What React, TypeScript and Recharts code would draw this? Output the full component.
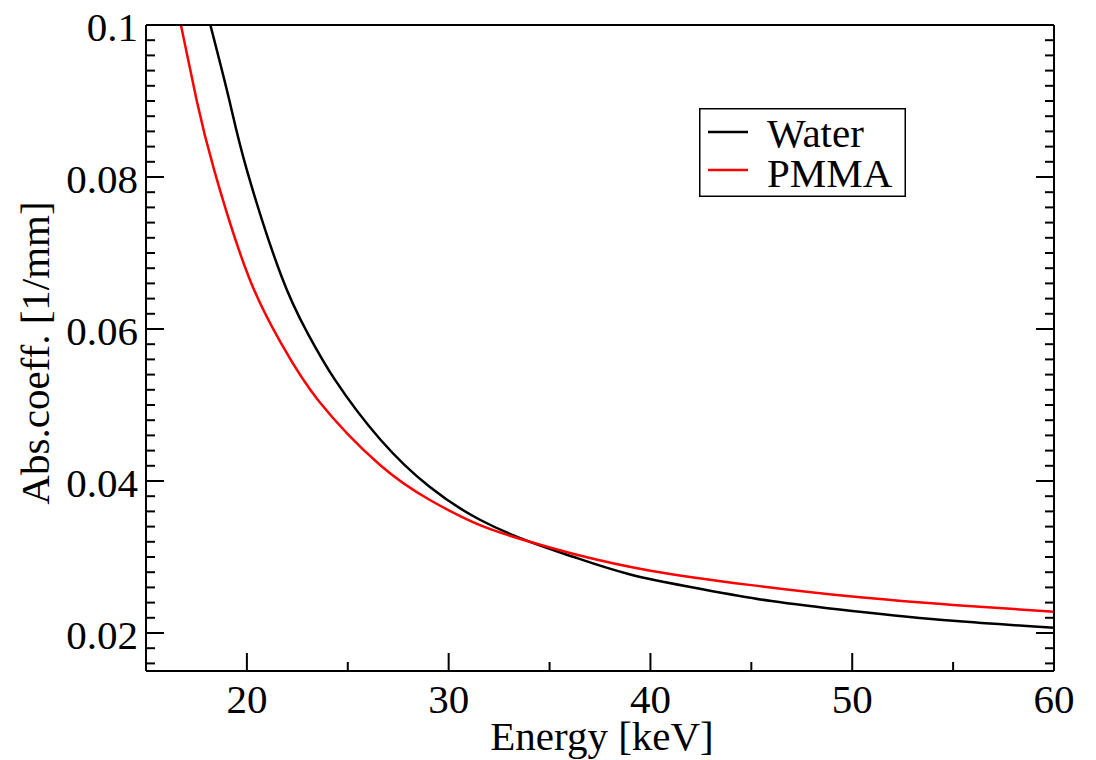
import { Legend, Line, LineChart, XAxis, YAxis } from "recharts";

// values (keV, 1/mm)
const waterEnergy = [
  18.19, 19.13, 20, 21.69, 23, 24.37, 26.6, 29.07, 31.55, 34.03, 36.2, 39, 42.5,
  46, 50, 55, 60,
];
const waterMu = [
  0.1, 0.0901, 0.0809, 0.0671, 0.0595, 0.0533, 0.0455, 0.0392, 0.0349, 0.032,
  0.03, 0.0277, 0.0258, 0.0242, 0.0229, 0.0216, 0.0207,
];

const pmmaEnergy = [
  16.73, 17.51, 18.38, 20.07, 21.7, 23.54, 26.6, 29.07, 31.55, 34.03, 36.2, 40,
  45, 50, 55, 60,
];
const pmmaMu = [
  0.1, 0.0901, 0.0809, 0.067, 0.0581, 0.0506, 0.0421, 0.0375, 0.0342, 0.032,
  0.0304, 0.0282, 0.0263, 0.0248, 0.0237, 0.0228,
];

const xTicks = [20, 25, 30, 35, 40, 45, 50, 55, 60];
const xLabels = [20, 30, 40, 50, 60];
const yTicks = [
  0.016, 0.018, 0.02, 0.022, 0.024, 0.026, 0.028, 0.03, 0.032, 0.034, 0.036,
  0.038, 0.04, 0.042, 0.044, 0.046, 0.048, 0.05, 0.052, 0.054, 0.056, 0.058,
  0.06, 0.062, 0.064, 0.066, 0.068, 0.07, 0.072, 0.074, 0.076, 0.078, 0.08,
  0.082, 0.084, 0.086, 0.088, 0.09, 0.092, 0.094, 0.096, 0.098, 0.1,
];
const yLabels = [0.02, 0.04, 0.06, 0.08, 0.1];

const water = waterEnergy.map((e, i) => ({ e, mu: waterMu[i] }));
const pmma = pmmaEnergy.map((e, i) => ({ e, mu: pmmaMu[i] }));

const FONT = '"Liberation Serif", "Times New Roman", serif';
const MAJOR = 18;
const MINOR = 9;

const isMajorX = (v: number) => xLabels.includes(v);
const isMajorY = (v: number) => yLabels.some((l) => Math.abs(l - v) < 1e-9);

function BottomTick({ x, y, payload }: any) {
  const major = isMajorX(payload.value);
  return (
    <g>
      <line x1={x} x2={x} y1={y} y2={y - (major ? MAJOR : MINOR)} stroke="#000" strokeWidth={2} />
      {major && (
        <text x={x} y={y + 42} textAnchor="middle" fontSize={41} fontFamily={FONT} fill="#000">
          {payload.value}
        </text>
      )}
    </g>
  );
}

function TopTick({ x, y, payload }: any) {
  const major = isMajorX(payload.value);
  return <line x1={x} x2={x} y1={y} y2={y + (major ? MAJOR : MINOR)} stroke="#000" strokeWidth={2} />;
}

function LeftTick({ x, y, payload }: any) {
  const major = isMajorY(payload.value);
  return (
    <g>
      <line x1={x} x2={x + (major ? MAJOR : MINOR)} y1={y} y2={y} stroke="#000" strokeWidth={2} />
      {major && (
        <text x={x - 8} y={y + 16} textAnchor="end" fontSize={41} fontFamily={FONT} fill="#000">
          {payload.value}
        </text>
      )}
    </g>
  );
}

function RightTick({ x, y, payload }: any) {
  const major = isMajorY(payload.value);
  return <line x1={x} x2={x - (major ? MAJOR : MINOR)} y1={y} y2={y} stroke="#000" strokeWidth={2} />;
}

function XTitle() {
  return (
    <text x={602} y={750} textAnchor="middle" fontSize={41} fontFamily={FONT} fill="#000">
      Energy [keV]
    </text>
  );
}

function YTitle() {
  return (
    <text
      x={49}
      y={353}
      transform="rotate(-90 49 353)"
      textAnchor="middle"
      fontSize={41}
      fontFamily={FONT}
      fill="#000"
    >
      Abs.coeff. [1/mm]
    </text>
  );
}

function LegendBox() {
  return (
    <svg width={207} height={89} style={{ display: "block" }}>
      <rect x={0.75} y={0.75} width={205.5} height={87.5} fill="#fff" stroke="#000" strokeWidth={1.5} />
      <line x1={9} x2={49} y1={24} y2={24} stroke="#000" strokeWidth={2.5} />
      <line x1={9} x2={49} y1={62} y2={62} stroke="#ff0000" strokeWidth={2.5} />
      <text x={68} y={39} fontSize={41} fontFamily={FONT} fill="#000">
        Water
      </text>
      <text x={68} y={79} fontSize={41} fontFamily={FONT} fill="#000">
        PMMA
      </text>
    </svg>
  );
}

export default function App() {
  return (
    <div style={{ position: "absolute", left: 0, top: 0, background: "#fff" }}>
      <LineChart width={1096} height={760} margin={{ top: 0, right: 0, bottom: 0, left: 0 }}>
        <XAxis
          dataKey="e"
          type="number"
          domain={[15, 60]}
          ticks={xTicks}
          interval={0}
          allowDataOverflow
          height={89}
          tickSize={0}
          tickMargin={0}
          tickLine={false}
          axisLine={{ stroke: "#000", strokeWidth: 2 }}
          tick={BottomTick}
          label={<XTitle />}
        />
        <XAxis
          xAxisId="top"
          orientation="top"
          type="number"
          domain={[15, 60]}
          ticks={xTicks}
          interval={0}
          allowDataOverflow
          height={25}
          tickSize={0}
          tickMargin={0}
          tickLine={false}
          axisLine={{ stroke: "#000", strokeWidth: 2 }}
          tick={TopTick}
        />
        <YAxis
          type="number"
          domain={[0.015, 0.1]}
          ticks={yTicks}
          interval={0}
          allowDataOverflow
          width={146}
          tickSize={0}
          tickMargin={0}
          tickLine={false}
          axisLine={{ stroke: "#000", strokeWidth: 2 }}
          tick={LeftTick}
          label={<YTitle />}
        />
        <YAxis
          yAxisId="right"
          orientation="right"
          type="number"
          domain={[0.015, 0.1]}
          ticks={yTicks}
          interval={0}
          allowDataOverflow
          width={42}
          tickSize={0}
          tickMargin={0}
          tickLine={false}
          axisLine={{ stroke: "#000", strokeWidth: 2 }}
          tick={RightTick}
        />
        <Line
          data={water}
          dataKey="mu"
          name="Water"
          type="natural"
          stroke="#000"
          strokeWidth={2.5}
          dot={false}
          isAnimationActive={false}
        />
        <Line
          data={pmma}
          dataKey="mu"
          name="PMMA"
          type="natural"
          stroke="#ff0000"
          strokeWidth={2.5}
          dot={false}
          isAnimationActive={false}
        />
        <Legend
          layout="vertical"
          align="center"
          verticalAlign="middle"
          wrapperStyle={{ left: 699, top: 108, width: 207, height: 89 }}
          content={() => <LegendBox />}
        />
      </LineChart>
    </div>
  );
}
